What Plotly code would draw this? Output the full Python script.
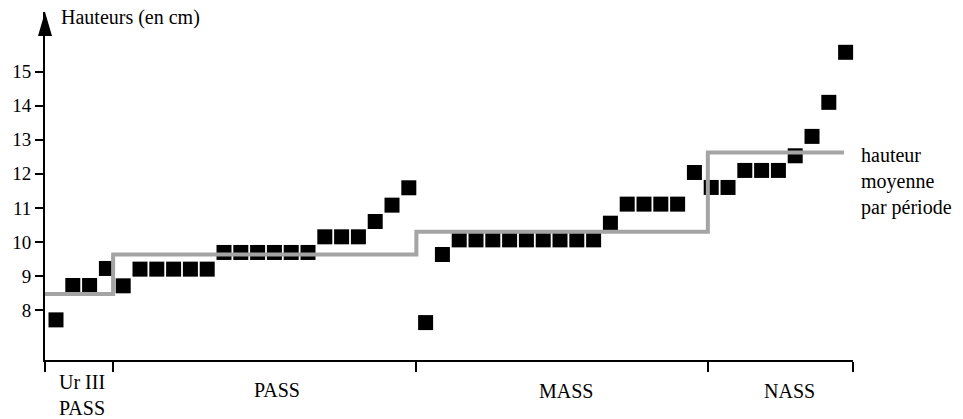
import plotly.graph_objects as go

# ---- data ----
heights_ur3 = [7.71, 8.72, 8.72, 9.22]
heights_pass = [8.71, 9.20, 9.20, 9.20, 9.20, 9.20,
                9.69, 9.69, 9.69, 9.69, 9.69, 9.69,
                10.15, 10.15, 10.15, 10.60, 11.08, 11.59]
heights_mass = [7.63, 9.63,
                10.06, 10.06, 10.06, 10.06, 10.06, 10.06, 10.06, 10.06, 10.06,
                10.55, 11.11, 11.11, 11.11, 11.11, 12.04]
heights_nass = [11.60, 11.60, 12.10, 12.10, 12.10, 12.53, 13.10, 14.10, 15.57]

period_labels = ["Ur III<br>PASS", "PASS", "MASS", "NASS"]
mean_heights = [8.47, 9.63, 10.30, 12.63]
period_bounds = [-0.655, 3.4, 21.45, 38.8, 47.44]
mean_line_end = 46.9
y_ticks = [8, 9, 10, 11, 12, 13, 14, 15]

# label placement (paper fractions)
period_label_x = [0.046, 0.287, 0.645, 0.922]
period_label_y = [-0.102, -0.086, -0.089, -0.089]

FONT = "Liberation Serif, Times New Roman, serif"

all_heights = heights_ur3 + heights_pass + heights_mass + heights_nass
xs = list(range(len(all_heights)))

fig = go.Figure()

fig.add_trace(go.Scatter(
    x=xs, y=all_heights, mode="markers",
    marker=dict(symbol="square", size=15, color="#000000", line=dict(width=0)),
    showlegend=False, hoverinfo="skip", cliponaxis=False,
))

step_x = period_bounds[:4] + [mean_line_end]
step_y = mean_heights + [mean_heights[-1]]
fig.add_trace(go.Scatter(
    x=step_x, y=step_y, mode="lines", line_shape="hv",
    line=dict(color="#a4a4a4", width=4),
    showlegend=False, hoverinfo="skip", cliponaxis=False,
))

# arrow head on the y axis
fig.add_shape(type="path", xref="paper", yref="paper",
              xsizemode="pixel", ysizemode="pixel",
              xanchor=0, yanchor=1,
              path="M0,0 L-7,-24 L7,-24 Z",
              fillcolor="#000000", line=dict(width=0))

annotations = []
for lab, lx, ly in zip(period_labels, period_label_x, period_label_y):
    annotations.append(dict(x=lx, y=ly, xref="paper", yref="paper", text=lab,
                            showarrow=False, xanchor="center", yanchor="middle",
                            font=dict(family=FONT, size=20, color="#000")))
annotations.append(dict(x=0.017, y=0.983, xref="paper", yref="paper",
                        text="Hauteurs (en cm)", showarrow=False,
                        xanchor="left", yanchor="middle",
                        font=dict(family=FONT, size=20, color="#000")))
annotations.append(dict(x=1.008, y=0.5115, xref="paper", yref="paper",
                        text="hauteur<br>moyenne<br>par période", showarrow=False,
                        xanchor="left", yanchor="middle", align="left",
                        font=dict(family=FONT, size=20, color="#000")))

fig.update_layout(
    width=963, height=419,
    margin=dict(l=45, r=110, t=12, b=59),
    paper_bgcolor="white", plot_bgcolor="white",
    annotations=annotations,
    xaxis=dict(range=[period_bounds[0], period_bounds[-1]],
               showgrid=False, zeroline=False, automargin=False,
               showline=True, linecolor="#000", linewidth=2,
               ticks="outside", tickvals=period_bounds, ticklen=10,
               tickwidth=2, tickcolor="#000", showticklabels=False),
    yaxis=dict(range=[6.531, 16.754],
               showgrid=False, zeroline=False, automargin=False,
               showline=True, linecolor="#000", linewidth=2,
               ticks="outside", tickvals=y_ticks, ticklen=8,
               tickwidth=2, tickcolor="#000",
               tickfont=dict(family=FONT, size=19, color="#000")),
)

fig.write_html("out.html",
               config={"displayModeBar": False},
               post_script="document.body.style.margin='0px';document.body.style.overflow='hidden';")
